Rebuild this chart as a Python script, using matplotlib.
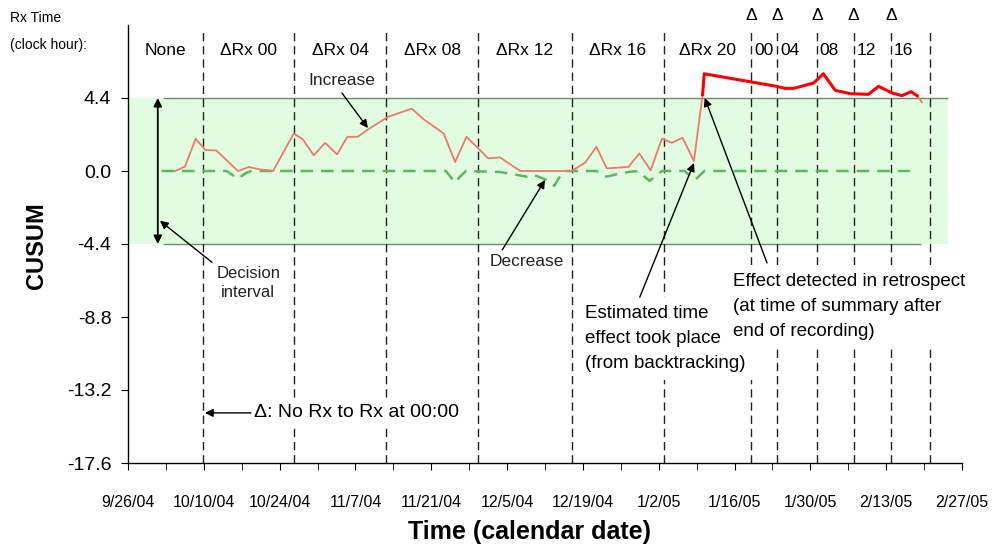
import numpy as np
import matplotlib

matplotlib.use("Agg")
import matplotlib.pyplot as plt  # noqa: E402

plt.rcParams["font.family"] = ["Liberation Sans", "DejaVu Sans"]

# x values are days after 9/26/04
tick_labels = ["9/26/04", "10/10/04", "10/24/04", "11/7/04", "11/21/04", "12/5/04",
               "12/19/04", "1/2/05", "1/16/05", "1/30/05", "2/13/05", "2/27/05"]
y_ticks = [-17.6, -13.2, -8.8, -4.4, 0.0, 4.4]
limit_h = 4.4

# Rx schedule changes (dashed lines) and their labels
change_days = [13.9, 30.7, 47.6, 64.7, 81.9, 99.0, 115.1, 119.9, 127.2, 134.0, 140.9, 148.1]
period_labels = ["None", "ΔRx 00", "ΔRx 04", "ΔRx 08", "ΔRx 12", "ΔRx 16", "ΔRx 20",
                 "00", "04", "08", "12", "16"]

# upper CUSUM (increase)
up_days = [8.7, 10.5, 12.5, 14.3, 16.3, 20.3, 22.3, 24.3, 26.8, 30.6, 32.3, 34.3, 36.4,
           38.6, 40.5, 42.4, 44.3, 48.0, 52.4, 54.5, 58.3, 60.4, 62.5, 64.7, 66.5, 68.7,
           72.4, 81.9, 84.4, 86.5, 88.4, 92.4, 94.4, 96.5, 98.6, 100.4, 102.4, 104.5,
           106.1, 106.4, 119.8, 121.3, 122.9, 126.6, 128.4, 130.6, 133.4, 136.7, 138.6,
           141.1, 142.9, 144.6, 145.7, 146.6]
up_vals = [0.0, 0.26, 1.94, 1.26, 1.24, 0.0, 0.24, 0.1, 0.0, 2.26, 1.9, 0.94, 1.70,
           1.0, 2.06, 2.06, 2.5, 3.26, 3.76, 3.14, 2.26, 0.54, 2.06, 1.36, 0.76, 0.82,
           0.0, 0.0, 0.5, 1.46, 0.16, 0.24, 1.06, 0.04, 1.96, 1.70, 2.0, 0.6,
           4.6, 5.86, 5.1, 4.98, 4.98, 5.3, 5.86, 4.86, 4.66, 4.62, 5.1,
           4.7, 4.54, 4.78, 4.54, 4.14]

# lower CUSUM (decrease)
down_days = [6.2, 18.2, 20.3, 21.9, 22.8, 58.7, 60.4, 61.3, 62.4, 68.7, 73.6, 74.8,
             77.0, 78.7, 79.8, 80.7, 86.5, 88.4, 90.2, 92.4, 94.2, 96.3, 98.6, 102.8,
             103.8, 104.7, 105.6, 106.4, 145.4]
down_vals = [0.0, 0.0, -0.46, -0.1, 0.0, 0.0, -0.7, -0.34, 0.0, -0.06, -0.34, -0.22,
             -0.5, -0.9, -0.3, 0.0, 0.0, -0.34, -0.2, -0.06, 0.0, -0.6, 0.0, 0.0,
             -0.3, -0.54, -0.26, 0.0, 0.0]


def main() -> None:
    W, H = 1004, 548
    fig = plt.figure(figsize=(W / 100, H / 100), dpi=100)
    fig.patch.set_facecolor("white")
    ax = fig.add_axes([128 / W, 1 - 463 / H, (962 - 128) / W, (463 - 25) / H])
    ax.set_xlim(0, 154)
    ax.set_ylim(-17.6, 8.8)

    # decision interval band
    ax.fill_between([0, 151.5], -limit_h, limit_h, color="#E2FCE2", lw=0, zorder=0)
    ax.hlines(limit_h, 6.4, 151.5, color="#6C8C6C", lw=1, zorder=1)
    ax.hlines(-limit_h, 6.4, 146.5, color="#6C8C6C", lw=1, zorder=1)

    for d in change_days:
        ax.plot([d, d], [-17.6, 8.6], color="#222222", lw=1, ls=(0, (6, 3.5)), zorder=2)

    ax.plot(down_days, down_vals, color="#5CB85C", lw=1.8, ls=(0, (5, 3.2)), zorder=3)
    up = np.array(up_vals)
    ax.plot(up_days, up, color="#F07868", lw=1.3, zorder=4)
    alarm = np.where(up >= 4.5, up, np.nan)
    ax.plot(up_days, alarm, color="#FF0000", lw=2.2, zorder=5)

    # period labels on top
    bounds = [0] + change_days
    for i, lab in enumerate(period_labels):
        if i < 7:
            ax.text((bounds[i] + bounds[i + 1]) / 2, 7.29, lab, ha="center", va="center",
                    fontsize=12.5)
        else:
            ax.text(change_days[i - 1] + 0.5, 7.29, lab, ha="left", va="center",
                    fontsize=12.5)
    for d in change_days[6:11]:
        ax.text(d, 9.4, "Δ", ha="center", va="center", fontsize=12.5, clip_on=False)

    fig.text(10 / W, 1 - 18 / H, "Rx Time", fontsize=10, va="center")
    fig.text(10 / W, 1 - 45 / H, "(clock hour):", fontsize=10, va="center")

    # annotations
    arrow = dict(arrowstyle="-|>", color="black", lw=1, mutation_scale=12,
                 shrinkA=0, shrinkB=0)
    ax.annotate("", xy=(5.5, limit_h), xytext=(5.5, -limit_h),
                arrowprops=dict(arrowstyle="<|-|>", color="black", lw=1.3,
                                mutation_scale=12, shrinkA=0, shrinkB=0), zorder=6)
    ax.annotate("", xy=(5.9, -3.0), xytext=(15.5, -5.5), arrowprops=arrow)
    ax.text(22.2, -6.75, "Decision\ninterval", ha="center", va="center", fontsize=12,
            color="#222222", linespacing=1.35)
    ax.annotate("", xy=(44.3, 2.59), xytext=(39.5, 4.7), arrowprops=arrow)
    ax.text(39.5, 5.48, "Increase", ha="center", va="center", fontsize=12.5, color="#222222")
    ax.annotate("", xy=(77.0, -0.54), xytext=(69.1, -4.76), arrowprops=arrow)
    ax.text(73.7, -5.48, "Decrease", ha="center", va="center", fontsize=12.5, color="#222222")

    box = dict(facecolor="white", edgecolor="none", pad=6)
    ax.annotate("", xy=(104.5, 0.48), xytext=(94.5, -7.6), arrowprops=arrow, zorder=7)
    ax.text(84.4, -8.08, "Estimated time\neffect took place\n(from backtracking)",
            ha="left", va="top", fontsize=13.5, linespacing=1.6, bbox=box, zorder=6)
    ax.annotate("", xy=(106.5, 4.4), xytext=(118.0, -5.54), arrowprops=arrow, zorder=7)
    ax.text(111.7, -6.15, "Effect detected in retrospect\n(at time of summary after\nend of recording)",
            ha="left", va="top", fontsize=13.5, linespacing=1.6, bbox=box, zorder=6)
    ax.annotate("", xy=(14.2, -14.58), xytext=(22.7, -14.58), arrowprops=arrow, zorder=7)
    ax.text(23.3, -14.58, "Δ: No Rx to Rx at 00:00", ha="left", va="center",
            fontsize=14, bbox=dict(facecolor="white", edgecolor="none", pad=2), zorder=6)

    # axes styling
    for s in ("top", "right"):
        ax.spines[s].set_visible(False)
    for s in ("left", "bottom"):
        ax.spines[s].set_color("black")
        ax.spines[s].set_linewidth(1)
    ax.set_yticks(y_ticks)
    ax.set_yticklabels([f"{v:.1f}" for v in y_ticks])
    ax.tick_params(axis="y", direction="out", length=5, pad=7, labelsize=14)
    ax.set_xticks(np.arange(0, 155, 14))
    ax.set_xticklabels(tick_labels)
    ax.set_xticks(np.arange(7, 155, 14), minor=True)
    ax.tick_params(axis="x", which="both", direction="out", length=5, pad=18,
                   labelsize=11.5)

    fig.text(36 / W, 1 - 246 / H, "CUSUM", rotation=90, ha="center", va="center",
             fontsize=17, weight="bold")
    fig.text(530 / W, 1 - 532 / H, "Time (calendar date)", ha="center", va="center",
             fontsize=18, weight="bold")

    fig.savefig("out.png", dpi=100)
    plt.close(fig)


if __name__ == "__main__":
    main()
